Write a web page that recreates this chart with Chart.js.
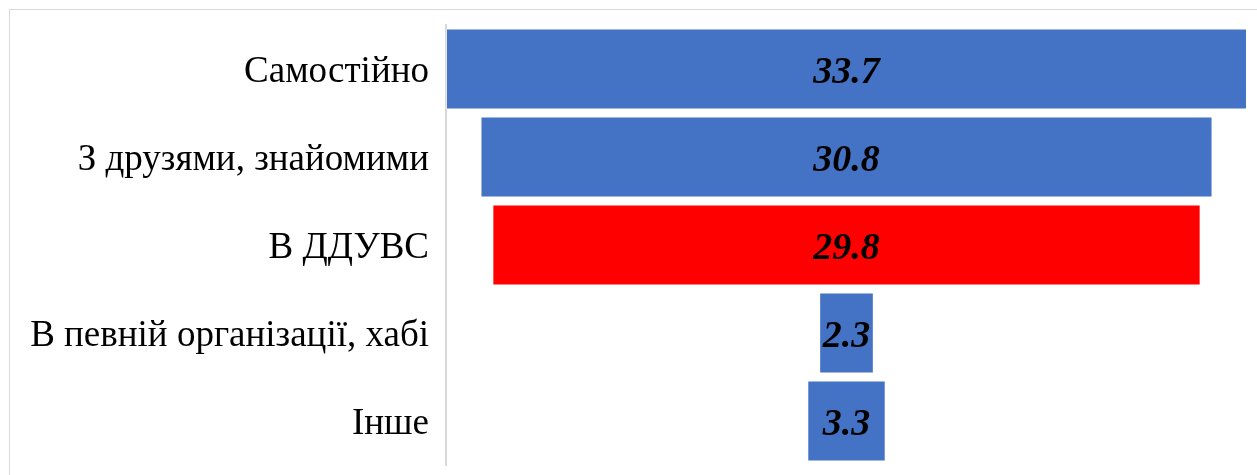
<!DOCTYPE html>
<html>
<head>
<meta charset="utf-8">
<script src="https://cdn.jsdelivr.net/npm/chart.js@4.4.0/dist/chart.umd.min.js"></script>
<style>
  html, body { margin: 0; padding: 0; background: #fff; }
  #wrap { position: relative; width: 1257px; height: 475px; overflow: hidden; }
  #frame { position: absolute; left: 9px; top: 9px; width: 1300px; height: 500px; border: 1px solid #d9d9d9; box-sizing: border-box; }
  #chart_a { position: absolute; left: 0; top: 0; }
</style>
</head>
<body>
<div id="wrap">
  <div id="frame"></div>
  <canvas id="chart_a" width="1257" height="475"></canvas>
</div>
<script>
var categories = ['Самостійно', 'З друзями, знайомими', 'В ДДУВС', 'В певній організації, хабі', 'Інше'];
var values = [33.7, 30.8, 29.8, 2.3, 3.3];
var barColors = ['#4472C4', '#4472C4', '#FF0000', '#4472C4', '#4472C4'];

var maxVal = Math.max.apply(null, values);
// funnel: each bar centred on the middle of the axis
var ranges = values.map(function (v) { return [(maxVal - v) / 2, (maxVal + v) / 2]; });

var centerLabels = {
  id: 'centerLabels',
  afterDatasetsDraw: function (chart) {
    var ctx = chart.ctx;
    var meta = chart.getDatasetMeta(0);
    ctx.save();
    ctx.font = 'italic bold 38px "Liberation Serif"';
    ctx.fillStyle = '#000';
    ctx.textAlign = 'center';
    ctx.textBaseline = 'middle';
    meta.data.forEach(function (bar, i) {
      ctx.fillText(values[i].toFixed(1), (bar.x + bar.base) / 2, bar.y + 4);
    });
    ctx.restore();
  }
};

var ctxL = document.getElementById('chart_a').getContext('2d');
var myChart = new Chart(ctxL, {
  type: 'bar',
  data: {
    labels: categories,
    datasets: [{
      data: ranges,
      backgroundColor: barColors,
      borderColor: 'rgba(255,255,255,0.35)',
      borderWidth: 1,
      borderSkipped: false,
      barPercentage: 0.92,
      categoryPercentage: 1.0
    }]
  },
  options: {
    indexAxis: 'y',
    responsive: false,
    animation: false,
    layout: { padding: { top: 25, right: 10, bottom: 10, left: 0 } },
    plugins: { legend: { display: false }, tooltip: { enabled: false } },
    scales: {
      x: { display: false, min: 0, max: maxVal },
      y: {
        afterFit: function (scale) {
          scale.width = 446;
          scale.paddingTop = 0;
          scale.paddingBottom = 0;
        },
        grid: { display: false, drawTicks: false },
        border: { display: true, color: '#d9d9d9', width: 2 },
        ticks: {
          color: '#000',
          padding: 17,
          labelOffset: 3,
          font: { family: '"Liberation Serif"', size: 37 }
        }
      }
    }
  },
  plugins: [centerLabels]
});
</script>
</body>
</html>
